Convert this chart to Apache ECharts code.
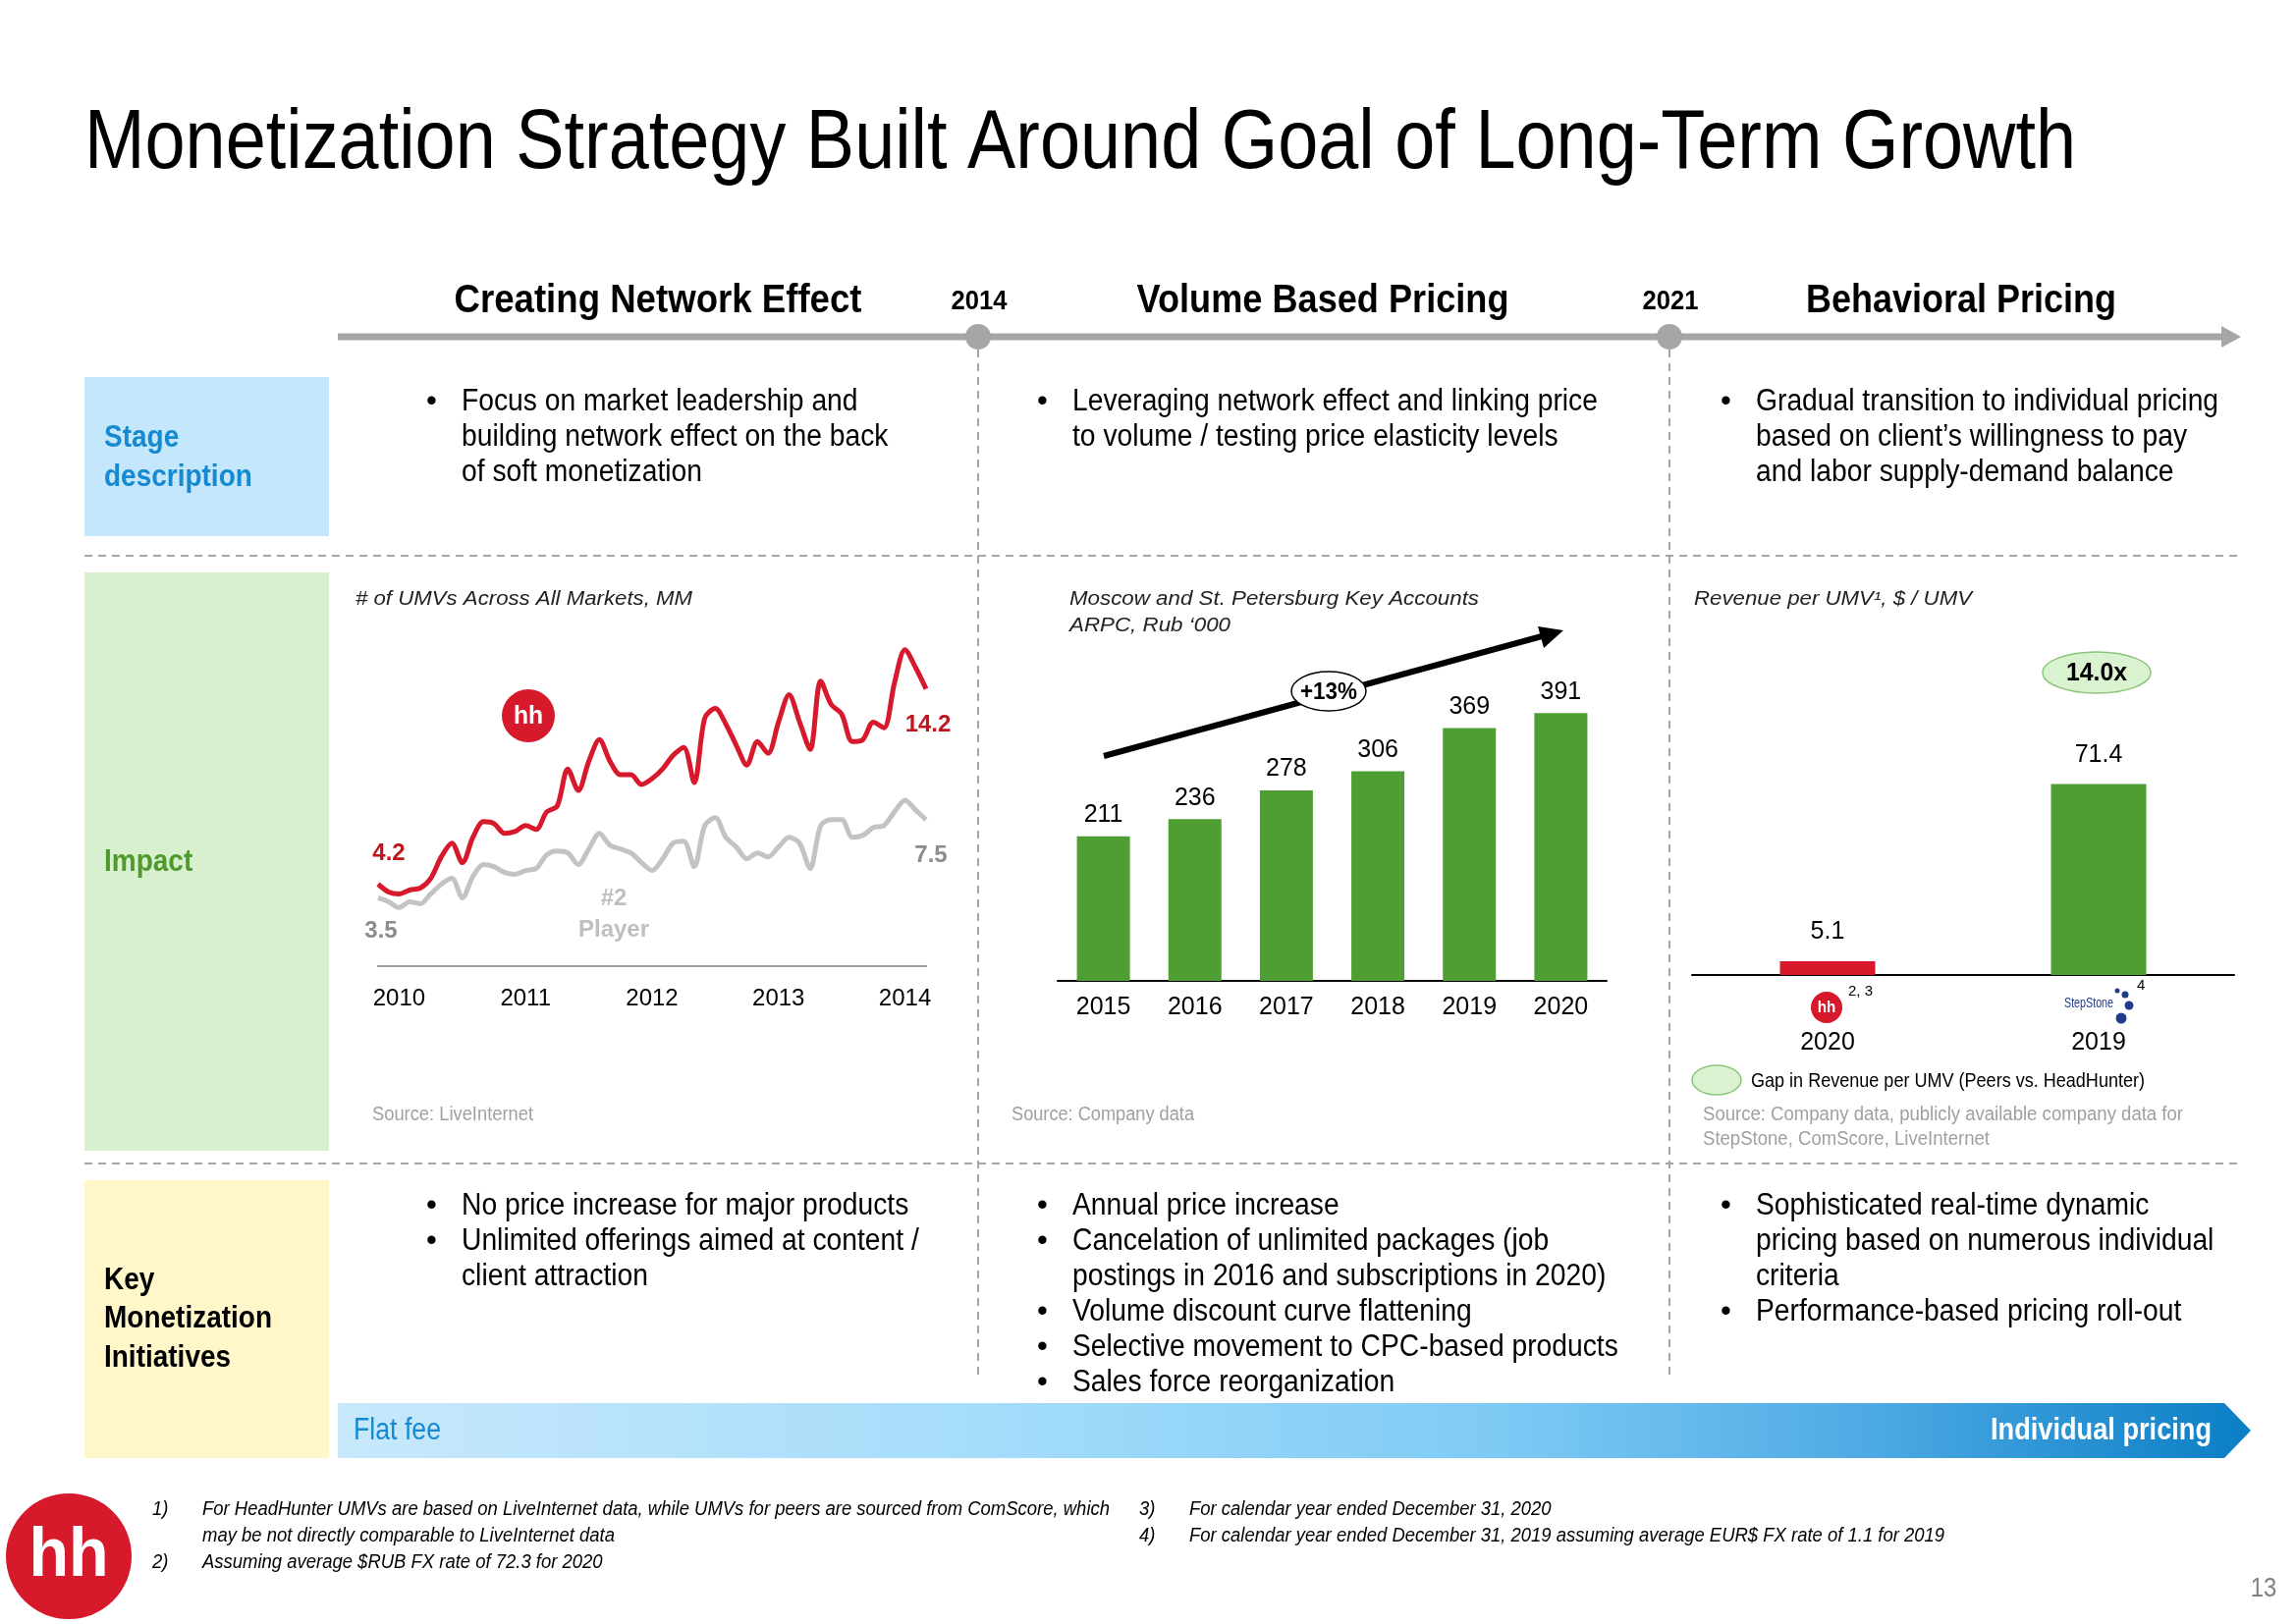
<!DOCTYPE html>
<html>
<head>
<meta charset="utf-8">
<script src="https://cdn.jsdelivr.net/npm/echarts@6/dist/echarts.min.js"></script>
<style>
html,body{margin:0;padding:0;background:#fff;}
#chart{width:2338px;height:1654px;}
</style>
</head>
<body>
<div id="chart"></div>
<script>
// ---------- DATA ----------
const umvMonths = ['2009-11','2009-12',
 '2010-01','2010-02','2010-03','2010-04','2010-05','2010-06','2010-07','2010-08','2010-09','2010-10','2010-11','2010-12',
 '2011-01','2011-02','2011-03','2011-04','2011-05','2011-06','2011-07','2011-08','2011-09','2011-10','2011-11','2011-12',
 '2012-01','2012-02','2012-03','2012-04','2012-05','2012-06','2012-07','2012-08','2012-09','2012-10','2012-11','2012-12',
 '2013-01','2013-02','2013-03','2013-04','2013-05','2013-06','2013-07','2013-08','2013-09','2013-10','2013-11','2013-12',
 '2014-01','2014-02','2014-03'];
const hhUMV = [4.2,3.8,3.7,3.9,4.0,4.5,5.6,6.3,5.3,6.6,7.4,7.3,6.8,6.9,7.2,7.0,7.9,8.2,10.1,9.0,10.5,11.6,10.5,9.8,9.8,9.3,
 9.6,10.1,10.8,11.2,9.4,12.7,13.2,12.4,11.3,10.3,11.5,10.9,12.5,13.9,12.5,11.1,14.6,13.4,12.9,11.5,11.6,12.5,12.2,14.5,16.2,15.3,14.2];
const player2UMV = [3.5,3.3,3.0,3.3,3.2,3.7,4.2,4.5,3.5,4.6,5.2,5.1,4.8,4.7,4.9,5.0,5.7,5.9,5.8,5.2,6.0,6.8,6.2,6.0,5.8,5.3,
 4.9,5.5,6.3,6.4,5.1,7.2,7.6,6.6,6.1,5.5,5.8,5.6,6.1,6.6,6.3,5.0,7.2,7.5,7.5,6.6,6.7,7.1,7.2,7.9,8.5,8.0,7.5];

const arpcYears = ['2015','2016','2017','2018','2019','2020'];
const arpcValues = [211,236,278,306,369,391];

const revYears = ['2020','2019'];
const revCompanies = ['HeadHunter','StepStone'];
const revValues = [5.1,71.4];

// ---------- STYLE ----------
const SANS = "'Liberation Sans',Arial,sans-serif";
const RED = '#d6192b', GREEN = '#4f9e34', GRAY = '#c3c3c3', TL = '#a6a6a6';

const mctx = document.createElement('canvas').getContext('2d');
function mw(text, size, o) {
  o = o || {};
  mctx.font = (o.fs || 'normal') + ' ' + (o.fw || 'normal') + ' ' + size + 'px ' + (o.ff || SANS);
  return mctx.measureText(text).width;
}
function txt(x, y, text, size, o) {
  o = o || {};
  const el = { type: 'text', x: x, y: y, z: 30, silent: true,
    style: { text: text, fontSize: size, fontFamily: o.ff || SANS, fontWeight: o.fw || 'normal',
      fontStyle: o.fs || 'normal', fill: o.c || '#000', textAlign: o.a || 'left', textVerticalAlign: o.va || 'middle' } };
  if (o.sx) el.scaleX = o.sx;
  return el;
}
// scale factor so that refText at size would span refWidth px
function fit(refText, size, refWidth, o) { return refWidth / mw(refText, size, o); }

function dline(x1, y1, x2, y2) {
  return { type: 'line', z: 5, silent: true, shape: { x1: x1, y1: y1, x2: x2, y2: y2 },
    style: { stroke: TL, lineWidth: 2, lineDash: [8, 6] } };
}
function rect(x, y, w, h, fill) {
  return { type: 'rect', z: 2, silent: true, shape: { x: x, y: y, width: w, height: h }, style: { fill: fill } };
}
function ell(cx, cy, rx, ry, fill, stroke, lw) {
  return { type: 'ellipse', z: 25, silent: true, shape: { cx: cx, cy: cy, rx: rx, ry: ry },
    style: { fill: fill, stroke: stroke, lineWidth: lw || 1.5 } };
}
function hhLogo(cx, cy, r, fs) {
  return [
    { type: 'circle', z: 25, silent: true, shape: { cx: cx, cy: cy, r: r }, style: { fill: RED } },
    txt(cx, cy + 1, 'hh', fs, { fw: 'bold', c: '#fff', a: 'center', sx: 0.95 })
  ];
}
function bullets(xb, xt, y0, lines, step, size, sx) {
  const out = [];
  lines.forEach(function (l, i) {
    const y = y0 + i * step;
    if (l.b) out.push(txt(xb, y, '\u2022', size));
    out.push(txt(xt, y, l.t, size, { sx: sx }));
  });
  return out;
}

const G = [];
// Title
const TS = 86;
const titleText = 'Monetization Strategy Built Around Goal of Long-Term Growth';
G.push(txt(86, 147, titleText, TS, { sx: fit(titleText, TS, 2028) }));

// Timeline
G.push({ type: 'line', z: 6, silent: true, shape: { x1: 344, y1: 343, x2: 2264, y2: 343 }, style: { stroke: TL, lineWidth: 7 } });
G.push({ type: 'polygon', z: 6, silent: true, shape: { points: [[2262, 332], [2282, 343], [2262, 354]] }, style: { fill: TL } });
G.push({ type: 'circle', z: 7, silent: true, shape: { cx: 996, cy: 343, r: 13 }, style: { fill: TL } });
G.push({ type: 'circle', z: 7, silent: true, shape: { cx: 1700, cy: 343, r: 13 }, style: { fill: TL } });
const HB = { fw: 'bold' };
function head(x, t, w) { G.push(txt(x, 307, t, 40, { fw: 'bold', a: 'center', sx: fit(t, 40, w, HB) })); }
head(670, 'Creating Network Effect', 415);
head(1347, 'Volume Based Pricing', 379);
head(1997, 'Behavioral Pricing', 316);
G.push(txt(997, 307, '2014', 28, { fw: 'bold', a: 'center', sx: fit('2014', 28, 57, HB) }));
G.push(txt(1701, 307, '2021', 28, { fw: 'bold', a: 'center', sx: fit('2021', 28, 57, HB) }));

// Separators
G.push(dline(996, 356, 996, 1404));
G.push(dline(1700, 356, 1700, 1404));
G.push(dline(86, 566, 2278, 566));
G.push(dline(86, 1185, 2278, 1185));

// Left boxes
G.push(rect(86, 384, 249, 162, '#c4e7fb'));
G.push(rect(86, 583, 249, 589, '#d8f0cd'));
G.push(rect(86, 1202, 249, 283, '#fff6c9'));
const sBox = fit('Monetization', 31, 171, HB);
G.push(txt(106, 446, 'Stage', 31, { fw: 'bold', c: '#1689d0', sx: sBox }));
G.push(txt(106, 486, 'description', 31, { fw: 'bold', c: '#1689d0', sx: sBox }));
G.push(txt(106, 878, 'Impact', 31, { fw: 'bold', c: '#4f9a2e', sx: sBox }));
G.push(txt(106, 1304, 'Key', 31, { fw: 'bold', sx: sBox }));
G.push(txt(106, 1343, 'Monetization', 31, { fw: 'bold', sx: sBox }));
G.push(txt(106, 1383, 'Initiatives', 31, { fw: 'bold', sx: sBox }));

// Body text scale (Arial condensed to match the narrow original)
const BS = 31;
const sBody = (fit('Leveraging network effect and linking price', BS, 535) +
  fit('building network effect on the back', BS, 453) +
  fit('Gradual transition to individual pricing', BS, 468) +
  fit('No price increase for major products', BS, 450) +
  fit('postings in 2016 and subscriptions in 2020)', BS, 535) +
  fit('pricing based on numerous individual', BS, 462)) / 6;

G.push.apply(G, bullets(434, 470, 409, [
  { b: 1, t: 'Focus on market leadership and' }, { t: 'building network effect on the back' }, { t: 'of soft monetization' }], 36, BS, sBody));
G.push.apply(G, bullets(1056, 1092, 409, [
  { b: 1, t: 'Leveraging network effect and linking price' }, { t: 'to volume / testing price elasticity levels' }], 36, BS, sBody));
G.push.apply(G, bullets(1752, 1788, 409, [
  { b: 1, t: 'Gradual transition to individual pricing' }, { t: 'based on client\u2019s willingness to pay' }, { t: 'and labor supply-demand balance' }], 36, BS, sBody));

G.push.apply(G, bullets(434, 470, 1228, [
  { b: 1, t: 'No price increase for major products' }, { b: 1, t: 'Unlimited offerings aimed at content /' }, { t: 'client attraction' }], 36, BS, sBody));
G.push.apply(G, bullets(1056, 1092, 1228, [
  { b: 1, t: 'Annual price increase' }, { b: 1, t: 'Cancelation of unlimited packages (job' },
  { t: 'postings in 2016 and subscriptions in 2020)' }, { b: 1, t: 'Volume discount curve flattening' },
  { b: 1, t: 'Selective movement to CPC-based products' }, { b: 1, t: 'Sales force reorganization' }], 36, BS, sBody));
G.push.apply(G, bullets(1752, 1788, 1228, [
  { b: 1, t: 'Sophisticated real-time dynamic' }, { t: 'pricing based on numerous individual' }, { t: 'criteria' },
  { b: 1, t: 'Performance-based pricing roll-out' }], 36, BS, sBody));

// Gradient arrow bar
G.push({ type: 'polygon', z: 3, silent: true,
  shape: { points: [[344, 1429], [2265, 1429], [2292, 1457], [2265, 1485], [344, 1485]] },
  style: { fill: { type: 'linear', x: 0, y: 0, x2: 1, y2: 0, colorStops: [
    { offset: 0, color: '#c8e8fb' }, { offset: 0.35, color: '#a3dcfa' }, { offset: 0.6, color: '#7fcbf5' },
    { offset: 0.8, color: '#4eaae4' }, { offset: 1, color: '#0a7ec5' }] } } });
G.push(txt(360, 1457, 'Flat fee', 31, { c: '#1689d0', sx: fit('Flat fee', 31, 89) }));
G.push(txt(2252, 1457, 'Individual pricing', 31, { fw: 'bold', c: '#fff', a: 'right', sx: fit('Individual pricing', 31, 225, HB) }));

// Chart titles (italic)
const IT = { fs: 'italic' };
function ctitle(x, y, t, w) { G.push(txt(x, y, t, 20, { fs: 'italic', c: '#222', sx: fit(t, 20, w, IT) })); }
ctitle(362, 610, '# of UMVs Across All Markets, MM', 343);
ctitle(1089, 610, 'Moscow and St. Petersburg Key Accounts', 417);
ctitle(1089, 637, 'ARPC, Rub \u2018000', 164);
ctitle(1725, 610, 'Revenue per UMV\u00b9, $ / UMV', 283);

// Chart 1 annotations
G.push.apply(G, hhLogo(538, 729, 27, 26));
G.push(txt(396, 869, '4.2', 24, { fw: 'bold', c: '#c0141f', a: 'center' }));
G.push(txt(388, 948, '3.5', 24, { fw: 'bold', c: '#8c8c8c', a: 'center' }));
G.push(txt(945, 738, '14.2', 24, { fw: 'bold', c: '#c0141f', a: 'center' }));
G.push(txt(948, 871, '7.5', 24, { fw: 'bold', c: '#8c8c8c', a: 'center' }));
G.push(txt(625, 915, '#2', 24, { fw: 'bold', c: '#bfbfbf', a: 'center' }));
G.push(txt(625, 947, 'Player', 24, { fw: 'bold', c: '#bfbfbf', a: 'center' }));

// Sources
function src(x, y, t, w) { G.push(txt(x, y, t, 20, { c: '#a0a0a0', sx: fit(t, 20, w) })); }
src(379, 1135, 'Source: LiveInternet', 164);
src(1030, 1135, 'Source: Company data', 186);
const sSrc = fit('Source: Company data, publicly available company data for', 20, 489);
G.push(txt(1734, 1135, 'Source: Company data, publicly available company data for', 20, { c: '#a0a0a0', sx: sSrc }));
G.push(txt(1734, 1160, 'StepStone, ComScore, LiveInternet', 20, { c: '#a0a0a0', sx: sSrc }));

// Chart 2 annotations
G.push({ type: 'line', z: 20, silent: true, shape: { x1: 1124, y1: 770, x2: 1570, y2: 648 }, style: { stroke: '#000', lineWidth: 6 } });
G.push({ type: 'polygon', z: 20, silent: true, shape: { points: [[1592, 642], [1566, 638], [1572, 660]] }, style: { fill: '#000' } });
G.push(ell(1353, 704, 38, 20, '#fff', '#000', 1.5));
G.push(txt(1353, 705, '+13%', 24, { fw: 'bold', a: 'center', sx: fit('+13%', 24, 58, HB) }));

// Chart 3 annotations
G.push(ell(2135, 685, 55, 21, '#d9f2cf', '#8cc47a', 1.5));
G.push(txt(2135, 686, '14.0x', 26, { fw: 'bold', a: 'center', sx: fit('14.0x', 26, 62, HB) }));
G.push.apply(G, hhLogo(1860, 1026, 16, 16));
G.push(txt(1882, 1010, '2, 3', 15));
G.push(txt(2127, 1022, 'StepStone', 15, { c: '#1f3b8c', a: 'center', sx: fit('StepStone', 15, 50) }));
G.push({ type: 'circle', z: 25, silent: true, shape: { cx: 2156, cy: 1009, r: 2.5 }, style: { fill: '#1f3b8c' } });
G.push({ type: 'circle', z: 25, silent: true, shape: { cx: 2164, cy: 1013, r: 3.5 }, style: { fill: '#1f3b8c' } });
G.push({ type: 'circle', z: 25, silent: true, shape: { cx: 2168, cy: 1024, r: 4.5 }, style: { fill: '#1f3b8c' } });
G.push({ type: 'circle', z: 25, silent: true, shape: { cx: 2160, cy: 1037, r: 5.5 }, style: { fill: '#1f3b8c' } });
G.push(txt(2176, 1004, '4', 15));
G.push(ell(1748, 1100, 25, 15, '#d9f2cf', '#8cc47a', 1.5));
const gapT = 'Gap in Revenue per UMV (Peers vs. HeadHunter)';
G.push(txt(1783, 1101, gapT, 21, { sx: fit(gapT, 21, 401) }));

// Footnotes
const FN = 20;
const fn1 = 'For HeadHunter UMVs are based on LiveInternet data, while UMVs for peers are sourced from ComScore, which';
const sFN = fit(fn1, FN, 924, IT);
function fn(x, y, t) { G.push(txt(x, y, t, FN, { fs: 'italic', sx: sFN })); }
fn(155, 1537, '1)'); fn(206, 1537, fn1);
fn(206, 1564, 'may be not directly comparable to LiveInternet data');
fn(155, 1591, '2)'); fn(206, 1591, 'Assuming average $RUB FX rate of 72.3 for 2020');
fn(1160, 1537, '3)'); fn(1211, 1537, 'For calendar year ended December 31, 2020');
fn(1160, 1564, '4)'); fn(1211, 1564, 'For calendar year ended December 31, 2019 assuming average EUR$ FX rate of 1.1 for 2019');
G.push.apply(G, hhLogo(70, 1585, 64, 70));
G.push(txt(2305, 1618, '13', 28, { c: '#808080', a: 'center', sx: 0.85 }));

const chart = echarts.init(document.getElementById('chart'), null, { renderer: 'canvas' });
chart.setOption({
  animation: false,
  backgroundColor: '#fff',
  grid: [
    { left: 385, top: 626, width: 558, height: 366 },
    { left: 1077, top: 685, width: 559, height: 314 },
    { left: 1723, top: 775, width: 552, height: 218 }
  ],
  xAxis: [
    { gridIndex: 0, type: 'category', data: umvMonths, boundaryGap: false,
      axisLine: { lineStyle: { color: '#a0a0a0', width: 2 } }, axisTick: { show: false },
      axisLabel: { interval: function (i, v) { return v.slice(5) === '01'; }, formatter: function (v) { return v.slice(0, 4); },
        fontSize: 24, fontFamily: SANS, color: '#000', margin: 13 } },
    { gridIndex: 1, type: 'category', data: arpcYears,
      axisLine: { lineStyle: { color: '#000', width: 2 } }, axisTick: { show: false },
      axisLabel: { fontSize: 25, fontFamily: SANS, color: '#000', margin: 15 } },
    { gridIndex: 2, type: 'category', data: revYears,
      axisLine: { lineStyle: { color: '#000', width: 2 } }, axisTick: { show: false },
      axisLabel: { fontSize: 25, fontFamily: SANS, color: '#000', margin: 57 } }
  ],
  yAxis: [
    { gridIndex: 0, type: 'value', min: -0.4, max: 18, show: false },
    { gridIndex: 1, type: 'value', min: 0, max: 450, show: false },
    { gridIndex: 2, type: 'value', min: 0, max: 80, show: false }
  ],
  series: [
    { name: '#2 Player', type: 'line', xAxisIndex: 0, yAxisIndex: 0, data: player2UMV, symbol: 'none', smooth: 0.3,
      lineStyle: { color: GRAY, width: 5 }, z: 3 },
    { name: 'HeadHunter', type: 'line', xAxisIndex: 0, yAxisIndex: 0, data: hhUMV, symbol: 'none', smooth: 0.3,
      lineStyle: { color: RED, width: 5 }, z: 4 },
    { name: 'ARPC', type: 'bar', xAxisIndex: 1, yAxisIndex: 1, data: arpcValues, barWidth: 54,
      itemStyle: { color: GREEN },
      label: { show: true, position: 'top', distance: 9, fontSize: 25, fontFamily: SANS, color: '#000' } },
    { name: 'Revenue per UMV', type: 'bar', xAxisIndex: 2, yAxisIndex: 2, barWidth: 97,
      data: revValues.map(function (v, i) { return { value: v, name: revCompanies[i], itemStyle: { color: i === 0 ? RED : GREEN } }; }),
      label: { show: true, position: 'top', distance: 17, fontSize: 25, fontFamily: SANS, color: '#000' } }
  ],
  graphic: { elements: G }
});
</script>
</body>
</html>
